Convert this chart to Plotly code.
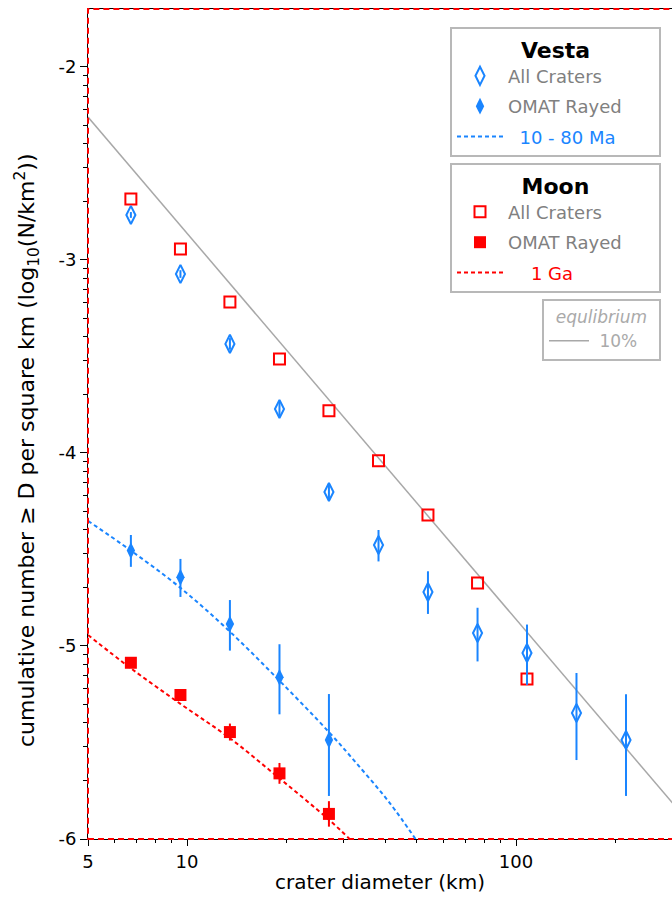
import numpy as np
import plotly.graph_objects as go

# ---------------- data ----------------
crater_D = [6.75, 9.55, 13.5, 19.1, 27.0, 38.2, 54.0, 76.4, 108.0, 152.7, 216.0]

vesta_all_logN = [-2.767, -3.073, -3.435, -3.772, -4.202, -4.477, -4.720, -4.933, -5.036, -5.347, -5.487]
vesta_all_err_plus = [0.015, 0.02, 0.03, 0.04, 0.045, 0.078, 0.107, 0.131, 0.147, 0.207, 0.237]
vesta_all_err_minus = [0.015, 0.02, 0.03, 0.04, 0.045, 0.085, 0.114, 0.147, 0.166, 0.244, 0.290]

vesta_ray_D = [6.75, 9.55, 13.5, 19.1, 27.0]
vesta_ray_logN = [-4.506, -4.644, -4.886, -5.162, -5.487]
vesta_ray_err_plus = [0.081, 0.095, 0.124, 0.171, 0.238]
vesta_ray_err_minus = [0.084, 0.102, 0.138, 0.192, 0.290]

moon_all_D = [6.75, 9.55, 13.5, 19.1, 27.0, 38.2, 54.0, 76.4, 108.0]
moon_all_logN = [-2.684, -2.943, -3.218, -3.513, -3.782, -4.041, -4.321, -4.674, -5.171]

moon_ray_D = [6.75, 9.55, 13.5, 19.1, 27.0]
moon_ray_logN = [-5.087, -5.254, -5.446, -5.660, -5.870]
moon_ray_err = [0.02, 0.03, 0.044, 0.054, 0.066]

vesta_model_D = [5, 6.74, 9.55, 13.5, 19.1, 27.0, 34.0, 41.4, 49.5]
vesta_model_logN = [-4.352, -4.505, -4.699, -4.926, -5.180, -5.446, -5.640, -5.815, -6.0]

moon_model_D = [5, 6.74, 9.55, 13.5, 19.1, 27.0, 31.2]
moon_model_logN = [-4.943, -5.115, -5.300, -5.478, -5.686, -5.900, -6.0]

equil_D = [5, 300]
equil_logN = [-2.26, -5.816]

x_tickvals = [5, 10, 100]
x_ticktext = ["5", "10", "100"]
x_minor = [6, 7, 8, 9, 20, 30, 40, 50, 60, 70, 80, 90, 200]
y_tickvals = [-6, -5, -4, -3, -2]
y_ticktext = ["-6", "-5", "-4", "-3", "-2"]

# ---------------- style ----------------
BLUE = "#1a85ff"
RED = "#ff0000"
GRAY_TXT = "#808080"
FONT = "'DejaVu Sans', sans-serif"

y_lo, y_hi = -6.0, -1.70
x_lo, x_hi = 5.0, 298.0
y_minor = [n + np.log10(k) for n in range(-7, -1) for k in range(2, 10)
           if y_lo < n + np.log10(k) < y_hi - 0.01]

fig = go.Figure()

# equilibrium
fig.add_trace(go.Scatter(
    x=equil_D, y=equil_logN, mode="lines",
    line=dict(color="#a8a8a8", width=1.5),
    name=" 10%   ", legend="legend3", legendgroup="g7"))

# model curves
fig.add_trace(go.Scatter(
    x=vesta_model_D, y=vesta_model_logN, mode="lines",
    line=dict(color=BLUE, width=2, dash="4px,3px", shape="spline"),
    name=f"<span style='color:{BLUE}'>  10 - 80 Ma</span>", legend="legend",
    legendgroup="g3", legendrank=3))
fig.add_trace(go.Scatter(
    x=moon_model_D, y=moon_model_logN, mode="lines",
    line=dict(color=RED, width=2, dash="4px,3px", shape="spline"),
    name=f"<span style='color:{RED}'>    1 Ga</span>", legend="legend2",
    legendgroup="g6", legendrank=6))

# Moon all craters
fig.add_trace(go.Scatter(
    x=moon_all_D, y=moon_all_logN, mode="markers",
    marker=dict(symbol="square-open", size=11, color=RED, line=dict(width=2, color=RED)),
    name="All Craters         ", legend="legend2", legendgroup="g4", legendrank=4))

# Vesta all craters
fig.add_trace(go.Scatter(
    x=crater_D, y=vesta_all_logN, mode="markers",
    marker=dict(symbol="diamond-tall-open", size=13, color=BLUE, line=dict(width=2, color=BLUE)),
    error_y=dict(type="data", symmetric=False, array=vesta_all_err_plus,
                 arrayminus=vesta_all_err_minus, color=BLUE, thickness=2, width=0),
    name="All Craters         ", legend="legend", legendgroup="g1", legendrank=1))

# Moon rayed
fig.add_trace(go.Scatter(
    x=moon_ray_D, y=moon_ray_logN, mode="markers",
    marker=dict(symbol="square", size=12, color=RED),
    error_y=dict(type="data", array=moon_ray_err, color=RED, thickness=2, width=0),
    name="OMAT Rayed     ", legend="legend2", legendgroup="g5", legendrank=5))

# Vesta rayed
fig.add_trace(go.Scatter(
    x=vesta_ray_D, y=vesta_ray_logN, mode="markers",
    marker=dict(symbol="diamond-tall", size=12, color=BLUE),
    error_y=dict(type="data", symmetric=False, array=vesta_ray_err_plus,
                 arrayminus=vesta_ray_err_minus, color=BLUE, thickness=2, width=0),
    name="OMAT Rayed     ", legend="legend", legendgroup="g2", legendrank=2))

PW, PH = 584.0, 830.0
def px_x(p):
    return (p - 88) / PW
def px_y(p):
    return (839 - p) / PH

legend_common = dict(
    xanchor="right", yanchor="top",
    bgcolor="rgba(255,255,255,1)", bordercolor="#b8b8b8", borderwidth=2,
    font=dict(family=FONT, size=18, color=GRAY_TXT),
    tracegroupgap=4, itemwidth=46,
)

fig.update_layout(
    width=672, height=898,
    margin=dict(l=88, r=0, t=9, b=59),
    paper_bgcolor="white", plot_bgcolor="white",
    font=dict(family=FONT, color="black"),
    showlegend=True,
    legend=dict(x=px_x(661), y=px_y(27),
                title=dict(text="<b>Vesta</b>", side="top center",
                           font=dict(family=FONT, size=22, color="black")),
                **legend_common),
    legend2=dict(x=px_x(661), y=px_y(163),
                 title=dict(text="<b>Moon</b>", side="top center",
                            font=dict(family=FONT, size=22, color="black")),
                 **legend_common),
    legend3=dict(x=px_x(661), y=px_y(299),
                 title=dict(text="<i>equlibrium</i>", side="top center",
                            font=dict(family=FONT, size=17, color="#aaaaaa")),
                 xanchor="right", yanchor="top",
                 bgcolor="white", bordercolor="#b8b8b8", borderwidth=2,
                 font=dict(family=FONT, size=17, color="#aaaaaa"),
                 itemwidth=40),
    xaxis=dict(
        type="log", range=[np.log10(x_lo), np.log10(x_hi)],
        tickmode="array", tickvals=x_tickvals, ticktext=x_ticktext,
        ticks="outside", ticklen=6, tickcolor="black", tickwidth=1,
        minor=dict(tickmode="array", tickvals=x_minor, ticks="outside",
                   ticklen=3, tickcolor="black", tickwidth=1, showgrid=False),
        showline=True, linecolor="black", linewidth=1, mirror=True,
        showgrid=False, zeroline=False,
        tickfont=dict(family=FONT, size=18, color="black"),
        title=dict(text="crater diameter (km)", standoff=4,
                   font=dict(family=FONT, size=20, color="black")),
    ),
    yaxis=dict(
        range=[y_lo, y_hi],
        tickmode="array", tickvals=y_tickvals, ticktext=y_ticktext,
        ticks="outside", ticklen=7, tickcolor="black", tickwidth=1,
        minor=dict(tickmode="array", tickvals=y_minor, ticks="outside",
                   ticklen=4, tickcolor="black", tickwidth=1, showgrid=False),
        showline=True, linecolor="black", linewidth=1, mirror=True,
        showgrid=False, zeroline=False,
        tickfont=dict(family=FONT, size=18, color="black"),
    ),
    annotations=[dict(
        text="cumulative number ≥ D per square km (log<sub>10</sub>(N/km<sup>2</sup>))",
        xref="paper", yref="paper", x=px_x(27), y=px_y(451),
        xanchor="center", yanchor="middle", textangle=-90, showarrow=False,
        font=dict(family=FONT, size=22, color="black"))],
    shapes=[dict(type="rect", xref="paper", yref="paper", x0=0, x1=1.02, y0=0, y1=1,
                 line=dict(color=RED, width=2, dash="6px,4px"), layer="above")],
)

fig.write_html("out.html")
